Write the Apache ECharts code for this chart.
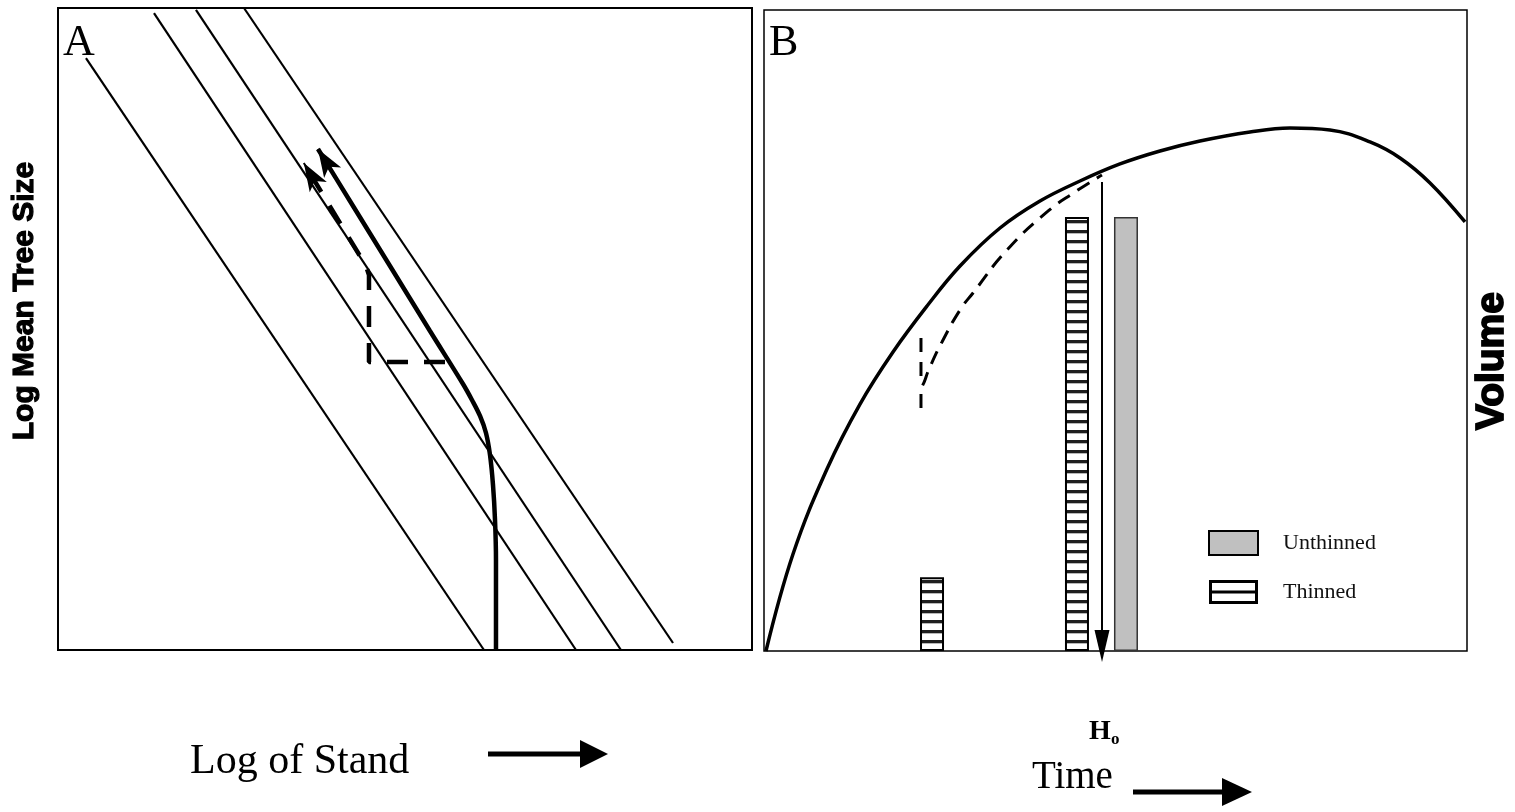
<!DOCTYPE html>
<html>
<head>
<meta charset="utf-8">
<script src="https://cdn.jsdelivr.net/npm/echarts@6/dist/echarts.min.js"></script>
<style>
html,body{margin:0;padding:0;background:#fff;}
#chart{width:1515px;height:812px;}
</style>
</head>
<body>
<div id="chart"></div>
<script>
// ---------- Panel A (log stand density vs log mean tree size), units 0-100 ----------
const guideTopX = [4.03, 13.83, 19.88, 26.80];
const guideTopY = [92.2, 99.2, 99.7, 100];
const guideBotX = [61.38, 74.64, 81.12, 88.62];
const guideBotY = [0, 0, 0, 1.09];

// unthinned trajectory (thick solid, ends with arrow)
const unthinnedPathX = [63.11, 63.11, 63.11, 62.97, 62.68, 62.25, 61.67, 60.81, 59.65, 58.36, 53.60, 47.84, 42.07, 37.46];
const unthinnedPathY = [0, 7.79, 14.02, 20.25, 25.70, 30.37, 33.80, 36.45, 38.94, 41.43, 49.69, 59.81, 69.94, 78.04];

// thinned trajectory (dashed, ends with arrow)
const thinnedPathX = [55.76, 44.81, 44.81, 44.38, 35.42];
const thinnedPathY = [44.86, 44.86, 58.41, 59.81, 75.84];

// ---------- Panel B (volume vs time), units 0-100 ----------
const volumeX = [0.28, 4.13, 8.96, 13.66, 18.35, 23.19, 27.88, 33.57, 39.26, 44.95, 50.64, 56.33, 62.02, 69.13, 74.82, 80.51, 86.20, 90.47, 94.74, 99.72];
const volumeY = [0, 15.13, 28.39, 38.53, 46.65, 53.82, 60.06, 65.99, 70.20, 73.32, 75.98, 78.00, 79.56, 80.97, 81.59, 81.28, 79.41, 76.91, 73.01, 66.93];

const thinVolStepX = [22.33, 22.33];
const thinVolStepY = [48.83, 42.28];
const thinVolX = [22.33, 22.33, 22.90, 23.61, 25.32, 27.88, 29.73, 34.57, 40.26, 44.24, 48.08];
const thinVolY = [37.91, 40.25, 42.28, 44.31, 48.21, 53.20, 55.85, 62.56, 68.49, 71.61, 74.26];

const harvestCategories = ['Unthinned', 'Thinned'];
const thinnedBarX = [23.9, 44.52];
const thinnedBarY = [11.5, 67.7];
const unthinnedBarX = [51.49];
const unthinnedBarY = [67.7];

const rotationTimeX = [48.08, 48.08];
const rotationTimeY = [73.17, 0.78];

// ---------- helpers ----------
const zip = (xs, ys) => xs.map((x, i) => [x, ys[i]]);
function arrowSeg(xs, ys) {
  const n = xs.length;
  const ex = xs[n - 1], ey = ys[n - 1];
  const px = xs[n - 2], py = ys[n - 2];
  return { coords: [[ex + 0.05 * (px - ex), ey + 0.05 * (py - ey)], [ex, ey]] };
}

// hatch pattern for thinned bars
const hatch = document.createElement('canvas');
hatch.width = 8; hatch.height = 10;
(function () {
  const c = hatch.getContext('2d');
  c.fillStyle = '#ffffff'; c.fillRect(0, 0, 8, 10);
  c.fillStyle = '#1e1e1e'; c.fillRect(0, 0, 8, 3);
  c.fillStyle = '#b8b8b8'; c.fillRect(0, 3, 8, 1);
})();
// legend icon for thinned
const thinIcon = document.createElement('canvas');
thinIcon.width = 49; thinIcon.height = 24;
(function () {
  const c = thinIcon.getContext('2d');
  c.fillStyle = '#fff'; c.fillRect(0, 0, 49, 24);
  c.fillStyle = '#000';
  c.fillRect(0, 0, 49, 3); c.fillRect(0, 21, 49, 3);
  c.fillRect(0, 0, 3, 24); c.fillRect(46, 0, 3, 24);
  c.fillRect(0, 10.5, 49, 3);
})();

const SERIF = "'Liberation Serif', 'Times New Roman', serif";
const SANS = "'Liberation Sans', Arial, sans-serif";

const chart = echarts.init(document.getElementById('chart'), null, { renderer: 'canvas' });

const option = {
  animation: false,
  backgroundColor: '#ffffff',
  grid: [
    { left: 58, top: 8, width: 694, height: 642, show: true, borderColor: '#000', borderWidth: 2, backgroundColor: 'transparent' },
    { left: 764, top: 10, width: 703, height: 641, show: true, borderColor: '#000', borderWidth: 1.5, backgroundColor: 'transparent' }
  ],
  xAxis: [
    { type: 'value', gridIndex: 0, min: 0, max: 100, show: false },
    { type: 'value', gridIndex: 1, min: 0, max: 100, show: false }
  ],
  yAxis: [
    { type: 'value', gridIndex: 0, min: 0, max: 100, show: false },
    { type: 'value', gridIndex: 1, min: 0, max: 100, show: false }
  ],
  legend: {
    left: 1208, top: 530, orient: 'vertical', padding: 0,
    itemWidth: 49, itemHeight: 24, itemGap: 24,
    selectedMode: false,
    textStyle: { fontFamily: SERIF, fontSize: 22, color: '#111', padding: [4, 0, 0, 20] },
    data: [
      { name: harvestCategories[0], icon: 'rect', itemStyle: { color: '#c0c0c0', borderColor: '#000', borderWidth: 2 } },
      { name: harvestCategories[1], icon: 'image://' + thinIcon.toDataURL() }
    ]
  },
  series: [
    {
      type: 'lines', coordinateSystem: 'cartesian2d', xAxisIndex: 0, yAxisIndex: 0,
      silent: true, symbol: 'none',
      lineStyle: { color: '#000', width: 2.2, opacity: 1, curveness: 0 },
      data: guideTopX.map((x, i) => ({ coords: [[x, guideTopY[i]], [guideBotX[i], guideBotY[i]]] }))
    },
    {
      type: 'line', xAxisIndex: 0, yAxisIndex: 0, symbol: 'none', smooth: 0.35,
      lineStyle: { color: '#000', width: 4.5 },
      data: zip(unthinnedPathX, unthinnedPathY)
    },
    {
      type: 'line', xAxisIndex: 0, yAxisIndex: 0, symbol: 'none', smooth: false,
      lineStyle: { color: '#000', width: 4.5, type: [21, 16] },
      data: zip(thinnedPathX, thinnedPathY)
    },
    {
      type: 'lines', coordinateSystem: 'cartesian2d', xAxisIndex: 0, yAxisIndex: 0,
      silent: true, clip: false,
      symbol: ['none', 'arrow'], symbolSize: [0, [15, 28]],
      lineStyle: { color: '#000', width: 2, opacity: 1 },
      data: [arrowSeg(unthinnedPathX, unthinnedPathY), arrowSeg(thinnedPathX, thinnedPathY)]
    },
    {
      name: harvestCategories[1], type: 'bar', xAxisIndex: 1, yAxisIndex: 1,
      barWidth: 24, barGap: '-100%',
      itemStyle: { color: { image: hatch, repeat: 'repeat' }, borderColor: '#000', borderWidth: 2 },
      data: zip(thinnedBarX, thinnedBarY)
    },
    {
      name: harvestCategories[0], type: 'bar', xAxisIndex: 1, yAxisIndex: 1,
      barWidth: 24, barGap: '-100%',
      itemStyle: { color: '#c0c0c0', borderColor: '#333', borderWidth: 1.5 },
      data: zip(unthinnedBarX, unthinnedBarY)
    },
    {
      type: 'line', xAxisIndex: 1, yAxisIndex: 1, symbol: 'none', smooth: 0.4,
      lineStyle: { color: '#000', width: 3.5 },
      data: zip(volumeX, volumeY)
    },
    {
      type: 'line', xAxisIndex: 1, yAxisIndex: 1, symbol: 'none', smooth: false,
      lineStyle: { color: '#000', width: 3, type: [14, 10] },
      data: zip(thinVolStepX, thinVolStepY)
    },
    {
      type: 'line', xAxisIndex: 1, yAxisIndex: 1, symbol: 'none', smooth: true,
      lineStyle: { color: '#000', width: 3, type: [14, 9] },
      data: zip(thinVolX, thinVolY)
    },
    {
      type: 'lines', coordinateSystem: 'cartesian2d', xAxisIndex: 1, yAxisIndex: 1,
      silent: true, clip: false,
      symbol: ['none', 'triangle'], symbolSize: [0, [15, 32]],
      lineStyle: { color: '#000', width: 2, opacity: 1 },
      data: [{ coords: zip(rotationTimeX, rotationTimeY) }]
    }
  ],
  graphic: [
    { type: 'text', x: 63, y: 43, style: { text: 'A', fontFamily: SERIF, fontSize: 44, fill: '#000', align: 'left', verticalAlign: 'middle' } },
    { type: 'text', x: 769, y: 43, style: { text: 'B', fontFamily: SERIF, fontSize: 44, fill: '#000', align: 'left', verticalAlign: 'middle' } },
    { type: 'text', x: 25, y: 301, rotation: Math.PI / 2, style: { text: 'Log Mean Tree Size', fontFamily: SANS, fontWeight: 'bold', fontSize: 30, fill: '#000', stroke: '#000', lineWidth: 1.2, align: 'center', verticalAlign: 'middle' } },
    { type: 'text', x: 1492, y: 361, rotation: Math.PI / 2, style: { text: 'Volume', fontFamily: SANS, fontWeight: 'bold', fontSize: 39, fill: '#000', stroke: '#000', lineWidth: 1.8, align: 'center', verticalAlign: 'middle' } },
    { type: 'text', x: 190, y: 762, style: { text: 'Log of Stand', fontFamily: SERIF, fontSize: 42, fill: '#000', align: 'left', verticalAlign: 'middle' } },
    { type: 'polyline', shape: { points: [[488, 754], [584, 754]] }, style: { stroke: '#000', lineWidth: 5 } },
    { type: 'polygon', shape: { points: [[580, 740], [608, 754], [580, 768]] }, style: { fill: '#000' } },
    { type: 'text', x: 1032, y: 778, style: { text: 'Time', fontFamily: SERIF, fontSize: 39, fill: '#000', align: 'left', verticalAlign: 'middle' } },
    { type: 'polyline', shape: { points: [[1133, 792], [1226, 792]] }, style: { stroke: '#000', lineWidth: 5 } },
    { type: 'polygon', shape: { points: [[1222, 778], [1252, 792], [1222, 806]] }, style: { fill: '#000' } },
    { type: 'text', x: 1089, y: 732, style: { text: 'H', fontFamily: SERIF, fontWeight: 'bold', fontSize: 28, fill: '#000', align: 'left', verticalAlign: 'middle' } },
    { type: 'text', x: 1111, y: 740, style: { text: 'o', fontFamily: SERIF, fontWeight: 'bold', fontSize: 17, fill: '#000', align: 'left', verticalAlign: 'middle' } }
  ]
};
chart.setOption(option);
</script>
</body>
</html>
